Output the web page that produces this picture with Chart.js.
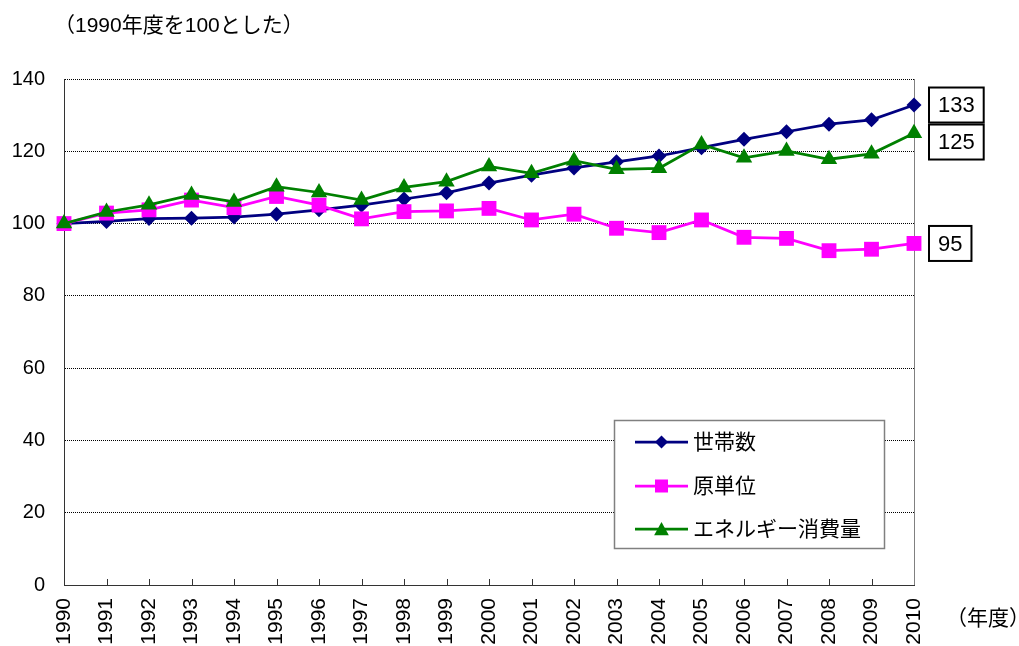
<!DOCTYPE html>
<html>
<head>
<meta charset="utf-8">
<script src="https://cdn.jsdelivr.net/npm/chart.js@4/dist/chart.umd.min.js"></script>
<style>
html,body{margin:0;padding:0;background:#fff;}
#wrap{width:1019px;height:646px;position:relative;}
</style>
</head>
<body>
<div id="wrap"><canvas id="c" width="1019" height="646"></canvas></div>
<script>
// ---- data ----
const years = ['1990','1991','1992','1993','1994','1995','1996','1997','1998','1999','2000',
               '2001','2002','2003','2004','2005','2006','2007','2008','2009','2010'];
const households = [100, 100.6, 101.4, 101.5, 101.8, 102.6, 103.8, 105.1, 106.8, 108.5, 111.2,
                    113.4, 115.4, 117.1, 118.7, 121.0, 123.3, 125.4, 127.5, 128.7, 132.8];
const intensity  = [100, 102.9, 103.8, 106.5, 104.4, 107.5, 105.1, 101.3, 103.3, 103.5, 104.2,
                    101.0, 102.6, 98.7, 97.5, 101.0, 96.2, 95.9, 92.5, 92.9, 94.5];
const energy     = [100, 103.2, 105.2, 107.9, 106.0, 110.2, 108.6, 106.5, 110.0, 111.6, 115.8,
                    113.9, 117.4, 115.0, 115.3, 121.9, 118.2, 120.1, 117.8, 119.3, 125.0];
const seriesNames = ['世帯数', '原単位', 'エネルギー消費量'];
const yMin = 0, yMax = 140, yStep = 20;
const titleText = '（1990年度を100とした）';
const xUnitText = '（年度）';

// ---- styles ----
const FONT = '"Liberation Sans", Arial, "Noto Sans CJK JP", sans-serif';
const colors = ['#000080', '#FF00FF', '#008000'];
const styles = ['rectRot', 'rect', 'triangle'];
const radii = [7.5, 10.5, 9.5];

Chart.defaults.font.family = FONT;
Chart.defaults.color = '#000';

function drawMarker(ctx, style, x, y, size, color) {
  ctx.save();
  ctx.fillStyle = color;
  ctx.beginPath();
  if (style === 'rectRot') {
    ctx.moveTo(x, y - size); ctx.lineTo(x + size, y); ctx.lineTo(x, y + size); ctx.lineTo(x - size, y);
  } else if (style === 'rect') {
    ctx.rect(x - size, y - size, size * 2, size * 2);
  } else {
    ctx.moveTo(x, y - size); ctx.lineTo(x + size * 1.05, y + size * 0.9); ctx.lineTo(x - size * 1.05, y + size * 0.9);
  }
  ctx.closePath();
  ctx.fill();
  ctx.restore();
}

const decor = {
  id: 'decor',
  beforeDatasetsDraw(chart) {
    const {ctx, chartArea, scales} = chart;
    const x = scales.x;
    ctx.save();
    // inward tick marks on x axis
    ctx.strokeStyle = '#333';
    ctx.lineWidth = 1;
    for (let i = 1; i < years.length - 1; i++) {
      const px = Math.round(x.getPixelForTick(i)) + 0.5;
      ctx.beginPath();
      ctx.moveTo(px, chartArea.bottom);
      ctx.lineTo(px, chartArea.bottom - 6);
      ctx.stroke();
    }
    // right border of plot area
    ctx.strokeStyle = '#808080';
    const rx = Math.round(chartArea.right) + 0.5;
    ctx.beginPath();
    ctx.moveTo(rx, chartArea.top);
    ctx.lineTo(rx, chartArea.bottom);
    ctx.stroke();
    ctx.restore();
  },
  afterDraw(chart) {
    const {ctx, chartArea, scales} = chart;
    const y = scales.y;
    ctx.save();
    // title
    ctx.fillStyle = '#000';
    ctx.font = '21px ' + FONT;
    ctx.textBaseline = 'middle';
    ctx.textAlign = 'left';
    ctx.fillText(titleText, 54, 26);
    // x unit
    ctx.fillText(xUnitText, 946, 619);

    // end value boxes
    const sets = chart.data.datasets.map((d, i) => {
      const last = d.data[d.data.length - 1];
      return {label: String(Math.round(last)), cy: y.getPixelForValue(last)};
    }).sort((a, b) => a.cy - b.cy);
    ctx.font = '22px ' + FONT;
    const boxH = 35;
    let prevBottom = -Infinity;
    sets.forEach(s => {
      const tw = ctx.measureText(s.label).width;
      const bw = tw + 18;
      let top = s.cy - boxH / 2;
      if (top < prevBottom + 2) top = prevBottom + 2;
      const left = chartArea.right + 15;
      ctx.fillStyle = '#fff';
      ctx.fillRect(left, top, bw, boxH);
      ctx.strokeStyle = '#000';
      ctx.lineWidth = 2;
      ctx.strokeRect(left, top, bw, boxH);
      ctx.fillStyle = '#000';
      ctx.textAlign = 'center';
      ctx.fillText(s.label, left + bw / 2, top + boxH / 2 + 1);
      prevBottom = top + boxH;
    });

    // legend
    const lx = 614, ly = 420, lw = 270, lh = 128;
    ctx.fillStyle = '#fff';
    ctx.fillRect(lx, ly, lw, lh);
    ctx.strokeStyle = '#808080';
    ctx.lineWidth = 1.5;
    ctx.strokeRect(lx + 0.5, ly + 0.5, lw, lh);
    const rows = [442, 486, 529];
    const legendSizes = [6.5, 6.5, 7];
    ctx.font = '21px ' + FONT;
    ctx.textAlign = 'left';
    ctx.textBaseline = 'middle';
    seriesNames.forEach((name, i) => {
      const ry = rows[i];
      ctx.strokeStyle = colors[i];
      ctx.lineWidth = 2.75;
      ctx.beginPath();
      ctx.moveTo(635, ry);
      ctx.lineTo(688, ry);
      ctx.stroke();
      drawMarker(ctx, styles[i], 661.5, ry, legendSizes[i], colors[i]);
      ctx.fillStyle = '#000';
      ctx.fillText(name, 693, ry + 1);
    });
    ctx.restore();
  }
};

const seriesData = [households, intensity, energy];
const datasets = seriesData.map((arr, i) => ({
  label: seriesNames[i],
  data: arr,
  borderColor: colors[i],
  backgroundColor: colors[i],
  borderWidth: 2.75,
  pointStyle: styles[i],
  pointRadius: radii[i],
  pointHoverRadius: radii[i],
  pointBackgroundColor: colors[i],
  pointBorderColor: colors[i],
  pointBorderWidth: 0,
  tension: 0,
  clip: false,
  order: 3 - i
}));

new Chart(document.getElementById('c'), {
  type: 'line',
  data: {labels: years, datasets},
  options: {
    responsive: false,
    animation: false,
    events: [],
    layout: {padding: {top: 79, right: 105, left: 0, bottom: 0}},
    plugins: {legend: {display: false}, tooltip: {enabled: false}},
    scales: {
      x: {
        type: 'category',
        offset: false,
        grid: {display: false, drawTicks: false},
        border: {display: true, color: '#333', width: 1},
        ticks: {
          minRotation: 90, maxRotation: 90, autoSkip: false, padding: 13,
          font: {size: 21, family: FONT}, color: '#000'
        },
        afterFit(scale) { scale.height = 61; }
      },
      y: {
        min: yMin, max: yMax,
        grid: {color: '#000', lineWidth: 1, drawTicks: false},
        border: {display: true, color: '#333', width: 1, dash: [1, 1]},
        ticks: {stepSize: yStep, padding: 19, font: {size: 20, family: FONT}, color: '#000'},
        afterFit(scale) { scale.width = 64; }
      }
    }
  },
  plugins: [decor]
});
</script>
</body>
</html>
